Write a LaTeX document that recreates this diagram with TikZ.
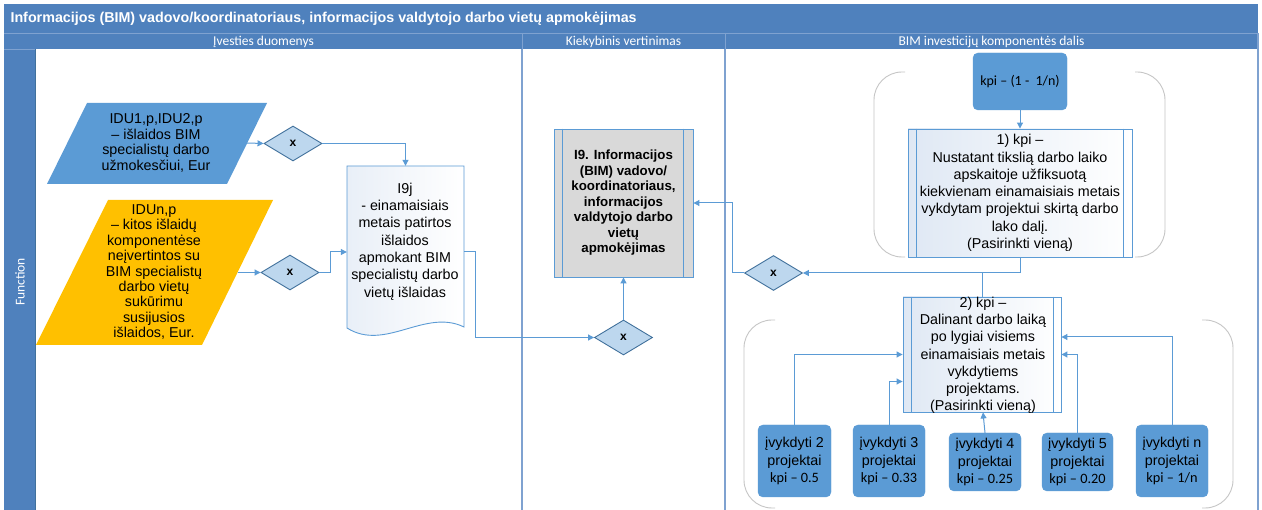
\documentclass[tikz,border=0pt]{standalone}
\usepackage{fontspec}
\setmainfont{Liberation Sans}
\newfontfamily\calfont{Carlito}
\usetikzlibrary{arrows.meta,shapes.geometric,calc}

\definecolor{laneblue}{HTML}{4F81BD}
\definecolor{laneline}{HTML}{7FA2D0}
\definecolor{boxblue}{HTML}{5B9BD5}
\definecolor{edgeblue}{HTML}{5B9BD5}
\definecolor{darkedge}{HTML}{41719C}
\definecolor{gatefill}{HTML}{BDD7EE}
\definecolor{amber}{HTML}{FFC000}
\definecolor{procgray}{HTML}{D9D9D9}
\definecolor{tint}{HTML}{DFE8F4}
\definecolor{bracketgray}{HTML}{C6C6C6}

\begin{document}
\begin{tikzpicture}[x=1pt,y=-1pt,
  body/.style={align=center,text=black,font=\fontsize{14.3}{17.3}\selectfont},
  tight/.style={align=center,text=black,font=\fontsize{14.3}{15.4}\selectfont},
  gate/.style={diamond,draw=darkedge,fill=gatefill,line width=0.9pt,
    minimum width=58pt,minimum height=35pt,inner sep=0pt,aspect=1.66,
    font=\bfseries\fontsize{12}{12}\selectfont},
  proc/.style={rectangle,draw=edgeblue,line width=0.9pt,left color=tint,
    right color=white,inner sep=0pt},
  kpibox/.style={rectangle,rounded corners=5pt,fill=boxblue,draw=boxblue,
    inner sep=0pt,align=center,text=black,font=\fontsize{14.3}{17.5}\selectfont},
  flow/.style={draw=edgeblue,line width=1pt,-{Triangle[length=6pt,width=6pt]}},
  link/.style={draw=edgeblue,line width=1pt},
  bracket/.style={draw=bracketgray,line width=0.9pt,rounded corners=28pt},
  lanehead/.style={text=white,font=\calfont\fontsize{13.5}{14}\selectfont}
]
\useasboundingbox (0,0) rectangle (1262,510);
\fill[white] (0,0) rectangle (1262,510);

% ---- swimlane frame ----
\fill[laneblue] (4,4) rectangle (1258,49);
\fill[laneblue] (4,49) rectangle (35,510);
\draw[laneline,line width=0.8pt] (4,33) -- (1258,33);
\draw[laneline,line width=0.8pt] (522,33) -- (522,49);
\draw[laneline,line width=0.8pt] (725,33) -- (725,49);
\draw[laneline,line width=0.8pt] (4,49) -- (35,49);
\draw[laneline,line width=1.3pt] (522,49) -- (522,510);
\draw[laneline,line width=1.3pt] (725,49) -- (725,510);
\draw[laneline,line width=1.3pt] (1258,33) -- (1258,510);
\draw[darkedge,line width=0.6pt] (35,49) -- (35,510);

\node[anchor=west,text=white,font=\bfseries\fontsize{14.3}{16}\selectfont] (title) at (7,19)
  {Informacijos (BIM) vadovo/koordinatoriaus, informacijos valdytojo darbo vietų apmokėjimas};
\node[lanehead] (laneA) at (263.5,41.5) {Įvesties duomenys};
\node[lanehead] (laneB) at (623.5,41.5) {Kiekybinis vertinimas};
\node[lanehead] (laneC) at (991.5,41.5) {BIM investicijų komponentės dalis};
\node[lanehead,rotate=90] (func) at (20,282) {Function};

% ---- grouping brackets ----
\draw[bracket] (905,72) -- (874,72) -- (874,257) -- (905,257);
\draw[bracket] (1135,72) -- (1165,72) -- (1165,257) -- (1135,257);
\draw[bracket] (775,320) -- (744,320) -- (744,508) -- (775,508);
\draw[bracket] (1202,320) -- (1233,320) -- (1233,508) -- (1202,508);

% ---- input data ----
\fill[boxblue] (87,103) -- (267,103) -- (227,184) -- (47,184) -- cycle;
\node[tight] (p1) at (156,143) {IDU1,p,IDU2,p\\– išlaidos BIM\\specialistų darbo\\užmokesčiui, Eur};
\coordinate (p1r) at (247,143);

\fill[amber] (108,200) -- (273,200) -- (202,345) -- (36,345) -- cycle;
\node[tight] (p2) at (154,272) {IDUn,p\\– kitos išlaidų\\komponentėse\\neįvertintos su\\BIM specialistų\\darbo vietų\\sukūrimu\\susijusios\\išlaidos, Eur.};
\coordinate (p2r) at (237.5,272.5);

\node[gate] (d1) at (293,143.5) {x};
\node[gate] (d2) at (290,272.5) {x};

% document shape
\node[minimum width=117pt,minimum height=172pt,inner sep=0pt] (doc) at (405.5,252) {};
\draw[edgeblue,line width=0.9pt,left color=tint!70,right color=white]
  (347,166) -- (464,166) -- (464,327)
  .. controls (425,308) and (385,352) .. (347,328) -- cycle;
\node[body] (doctxt) at (405,241.5) {I9j\\- einamaisiais\\metais patirtos\\išlaidos\\apmokant BIM\\specialistų darbo\\vietų išlaidas};

% ---- quantitative evaluation ----
\node[rectangle,draw=edgeblue,line width=0.9pt,fill=procgray,inner sep=0pt,
  minimum width=139pt,minimum height=148pt,align=center,
  font=\bfseries\fontsize{13.3}{15.5}\selectfont] (i9) at (623.5,203)
  {I9. Informacijos\\(BIM) vadovo/\\koordinatoriaus,\\informacijos\\valdytojo darbo\\vietų\\apmokėjimas};
\draw[edgeblue,line width=0.9pt] ($(i9.north west)+(9,0)$) -- ($(i9.south west)+(9,0)$);
\draw[edgeblue,line width=0.9pt] ($(i9.north east)+(-10,0)$) -- ($(i9.south east)+(-10,0)$);

\node[gate] (d3) at (623.5,337.5) {x};

% ---- BIM investment component ----
\node[kpibox,minimum width=94pt,minimum height=57pt,font=\calfont\fontsize{14}{16}\selectfont]
  (top) at (1020,81.5) {kpi – (1 -\ \ 1/n)};

\node[proc,minimum width=224pt,minimum height=128pt,body] (b1) at (1020,193)
  {1) kpi –\\Nustatant tikslią darbo laiko\\apskaitoje užfiksuotą\\kiekvienam einamaisiais metais\\vykdytam projektui skirtą darbo\\lako dalį.\\(Pasirinkti vieną)};
\draw[edgeblue,line width=0.9pt] ($(b1.north west)+(9,0)$) -- ($(b1.south west)+(9,0)$);
\draw[edgeblue,line width=0.9pt] ($(b1.north east)+(-9,0)$) -- ($(b1.south east)+(-9,0)$);

\node[gate] (d4) at (773.5,273) {x};

\node[proc,minimum width=158pt,minimum height=115pt] (b2) at (982,354.5) {};
\draw[edgeblue,line width=0.9pt] ($(b2.north west)+(9,0)$) -- ($(b2.south west)+(9,0)$);
\draw[edgeblue,line width=0.9pt] ($(b2.north east)+(-8,0)$) -- ($(b2.south east)+(-8,0)$);
\node[body,font=\fontsize{14.3}{17.2}\selectfont] (b2txt) at (983,355.5)
  {2) kpi –\\Dalinant darbo laiką\\po lygiai visiems\\einamaisiais metais\\vykdytiems\\projektams.\\(Pasirinkti vieną)};

\node[kpibox,minimum width=73pt,minimum height=72pt] (k2) at (794.5,461) {įvykdyti 2\\projektai\\{\calfont kpi – 0.5}};
\node[kpibox,minimum width=72pt,minimum height=72pt] (k3) at (889,461) {įvykdyti 3\\projektai\\{\calfont kpi – 0.33}};
\node[kpibox,minimum width=72pt,minimum height=58pt] (k4) at (985,462) {įvykdyti 4\\projektai\\{\calfont kpi – 0.25}};
\node[kpibox,minimum width=71pt,minimum height=58pt] (k5) at (1077.5,462) {įvykdyti 5\\projektai\\{\calfont kpi – 0.20}};
\node[kpibox,minimum width=72pt,minimum height=72pt] (kn) at (1172,461) {įvykdyti n\\projektai\\{\calfont kpi – 1/n}};

% ---- connectors ----
\draw[flow] (p1r) -- (d1.west);
\draw[flow] (d1.east) -| (doc.north);
\draw[flow] (p2r) -- (d2.west);
\draw[flow] (d2.east) -- ++(11,0) |- (doc.west);
\draw[flow] (doc.east) -- ++(11,0) |- (d3.west);
\draw[flow] (d3.north) -- (i9.south);
\draw[flow] (d4.west) -- ++(-12,0) |- (i9.east);
\draw[flow] (top.south) -- (b1.north);
\draw[flow] (b1.south) |- (d4.east);
\draw[link] (b2.north) -- (b2.north |- d4.east);
\draw[flow] (k2.north) |- (b2.west);
\draw[flow] (k3.north) |- ($(b2.west)+(0,27)$);
\draw[flow] (k4.north) -- ($(b2.south)+(1,0)$);
\draw[flow] (k5.north) |- (b2.east);
\draw[flow] (kn.north) |- ($(b2.east)+(0,-17.5)$);
\end{tikzpicture}
\end{document}
